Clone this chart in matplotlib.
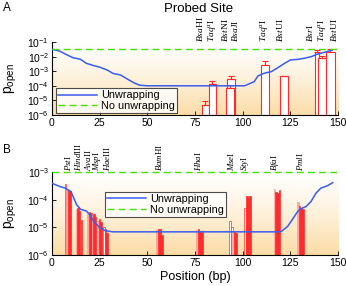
import numpy as np
import matplotlib
matplotlib.use('Agg')
import matplotlib.pyplot as plt
from matplotlib.ticker import LogLocator, NullLocator, LogFormatterMathtext

plt.rcParams['font.family'] = ['Liberation Sans', 'DejaVu Sans']
plt.rcParams['mathtext.fontset'] = 'custom'
plt.rcParams['mathtext.rm'] = 'Liberation Serif'
plt.rcParams['mathtext.it'] = 'Liberation Serif:italic'
plt.rcParams['mathtext.sf'] = 'Liberation Sans'
plt.rcParams['hatch.color'] = 'white'
plt.rcParams['hatch.linewidth'] = 0.6

# ---- panel A data ----
a_curve_x = [0, 4, 8, 11, 15, 18, 22, 25, 29, 32, 36, 39, 43, 46, 50, 60, 80, 101,
             106, 108, 111, 115, 118, 122, 125, 129, 132, 136, 139, 143, 147]
a_curve_y = [3.2e-2, 2.4e-2, 1.3e-2, 8.5e-3, 6.5e-3, 3.5e-3, 2.4e-3, 1.9e-3, 1.2e-3, 7.1e-4,
             5.5e-4, 3.2e-4, 1.6e-4, 1.1e-4, 1.0e-4, 1.0e-4, 1.0e-4, 1.0e-4,
             1.9e-4, 4.7e-4, 7.1e-4, 9.3e-4, 1.6e-3, 3.5e-3, 5.9e-3, 6.5e-3, 7.6e-3,
             1.0e-2, 1.45e-2, 2.0e-2, 2.8e-2]
a_nounwrap = 3.2e-2
a_bar_x = [80.5, 84.0, 93.8, 93.3, 111.8, 121.6, 139.0, 141.6, 146.0]
a_bar_w = [4.0, 3.8, 4.4, 4.2, 4.4, 4.3, 2.0, 4.3, 4.4]
a_bar_y = [4.8e-6, 1.25e-4, 2.8e-4, 6.8e-5, 2.5e-3, 4.5e-4, 2.2e-2, 7.6e-3, 2.0e-2]
a_bar_err = [9.1e-6, 2.1e-4, 4.9e-4, 1.1e-4, 5.2e-3, 5.0e-4, 2.75e-2, 1.15e-2, 3.3e-2]
a_label_x = [77.7, 83.8, 90.9, 95.8, 111.0, 119.8, 135.3, 141.7, 148.0]
a_label_it = ['Bsa', 'Taq', 'Bst', 'Bsa', 'Taq', 'Bst', 'Bsr', 'Taq', 'Bst']
a_label_rm = ['HI', r'^{\alpha}I', 'NI', 'JI', r'^{\alpha}I', 'UI', 'I', r'^{\alpha}I', 'UI']

# ---- panel B data ----
b_curve_x = [0, 4, 7, 10, 13, 15, 18, 20, 22, 25, 28, 32, 60, 90, 120,
             123.5, 126, 128.8, 130.5, 133.2, 135.8, 138.4, 141, 144.6, 147.2]
b_curve_y = [3.9e-4, 3.0e-4, 2.6e-4, 1.95e-4, 6.5e-5, 4.5e-5, 3.9e-5, 2.8e-5, 1.6e-5, 1.0e-5,
             7.6e-6, 6.9e-6, 6.9e-6, 6.9e-6, 6.9e-6,
             1.07e-5, 1.9e-5, 3.7e-5, 4.7e-5, 5.6e-5, 8.5e-5, 1.7e-4, 2.6e-4, 3.2e-4, 4.1e-4]
b_nounwrap = 1e-3
b_bar_x = [7.2, 8.0, 8.8, 9.6,
           12.8, 13.6, 14.4, 15.4,
           18.8, 19.6, 20.4,
           21.2, 22.0, 22.8,
           24.2, 25.0, 25.8, 27.2, 28.0, 28.8,
           55.2, 56.0, 56.8, 57.8,
           76.0, 76.8, 77.6, 78.6,
           93.4, 94.3, 95.0, 95.8, 96.6,
           101.3, 102.2, 103.0, 103.8,
           116.8, 117.6, 118.4, 119.2,
           129.0, 129.8, 130.6, 131.6]
b_bar_y = [3.8e-4, 2.5e-4, 2.2e-4, 2.0e-4,
           4.5e-5, 5.0e-5, 4.0e-5, 1.9e-5,
           3.0e-5, 3.5e-5, 3.2e-5,
           2.8e-5, 3.0e-5, 2.3e-5,
           1.7e-5, 2.0e-5, 1.5e-5, 1.0e-5, 9.0e-6, 6.5e-6,
           8.0e-6, 9.0e-6, 8.5e-6, 5.5e-6,
           8.0e-6, 8.5e-6, 7.5e-6, 7.0e-6,
           1.7e-5, 1.0e-5, 7.0e-6, 7.5e-6, 6.5e-6,
           5.0e-5, 1.3e-4, 1.1e-4, 1.3e-4,
           2.5e-4, 1.9e-4, 1.8e-4, 2.2e-4,
           8.5e-5, 6.0e-5, 5.0e-5, 4.5e-5]
b_bar_kind = ['open', 'light', 'solid', 'hatch',
              'light', 'solid', 'hatch', 'solid',
              'light', 'solid', 'hatch',
              'light', 'solid', 'hatch',
              'light', 'solid', 'hatch', 'open', 'solid', 'hatch',
              'light', 'solid', 'hatch', 'solid',
              'light', 'solid', 'hatch', 'solid',
              'open', 'open', 'light', 'hatch', 'solid',
              'open', 'solid', 'hatch', 'solid',
              'light', 'solid', 'hatch', 'solid',
              'light', 'solid', 'hatch', 'solid']
b_label_x = [8.6, 13.9, 18.7, 23.7, 28.9, 56.3, 76.8, 93.8, 101.4, 116.8, 130.0]
b_label_it = ['Pst', 'Hind', 'Ava', 'Msp', 'Hae', 'Bam', 'Hha', 'Mse', 'Sty', 'Bfa', 'Pml']
b_label_rm = ['I', 'III', 'II', 'I', 'III', 'HI', 'I', 'I', 'I', 'I', 'I']

RED = '#ff2a2a'
BLUE = '#3a5cf0'
GREEN = '#44e000'


def gradient(ax):
    top = np.array([1.0, 1.0, 1.0])
    bot = np.array([252, 220, 166]) / 255.0
    t = np.linspace(0, 1, 256) ** 1.3
    img = top[None, :] * (1 - t[:, None]) + bot[None, :] * t[:, None]
    ax.imshow(img[:, None, :], extent=[0, 1, 0, 1], transform=ax.transAxes,
              aspect='auto', zorder=0, interpolation='bilinear')


def style_axes(ax, ymin, ymax):
    ax.set_yscale('log')
    ax.set_xlim(0, 150)
    ax.set_ylim(ymin, ymax)
    ax.spines['top'].set_visible(False)
    ax.spines['right'].set_visible(False)
    ax.spines['left'].set_linewidth(0.8)
    ax.spines['bottom'].set_linewidth(0.8)
    ax.set_xticks([0, 25, 50, 75, 100, 125, 150])
    ax.yaxis.set_major_locator(LogLocator(base=10, numticks=10))
    ax.yaxis.set_minor_locator(NullLocator())
    ax.yaxis.set_major_formatter(LogFormatterMathtext())
    ax.tick_params(direction='in', length=3, width=0.6, labelsize=7.5, pad=2)
    ax.set_ylabel(r'p$_{\mathsf{open}}$', fontsize=10, labelpad=1)
    ax.yaxis.set_label_coords(-0.12, 0.5)


def site_labels(ax, xs, its, rms, size):
    for x, it, rm in zip(xs, its, rms):
        txt = r'$\mathit{' + it + r'}\mathrm{' + rm + '}$'
        ax.text(x, 1.005, txt, transform=ax.get_xaxis_transform(), rotation=90,
                ha='center', va='bottom', fontsize=size)


fig = plt.figure(figsize=(3.46, 2.86), dpi=100)
axA = fig.add_axes([0.150, 0.598, 0.827, 0.255])
axB = fig.add_axes([0.150, 0.108, 0.827, 0.291])

# panel A
gradient(axA)
for x, w, y, e in zip(a_bar_x, a_bar_w, a_bar_y, a_bar_err):
    axA.bar(x, y - 1e-6, bottom=1e-6, width=w, facecolor='white', edgecolor=RED,
            linewidth=0.8, zorder=2)
    axA.errorbar(x, y, yerr=[[0], [e - y]], fmt='none', ecolor=RED, elinewidth=0.8,
                 capsize=2.2, capthick=0.8, zorder=2)
axA.plot(a_curve_x, a_curve_y, color=BLUE, lw=1.1, zorder=3, label='Unwrapping')
axA.axhline(a_nounwrap, color=GREEN, lw=1.0, ls=(0, (5, 3)), zorder=3, label='No unwrapping')
style_axes(axA, 1e-6, 1e-1)
leg = axA.legend(loc='lower left', bbox_to_anchor=(0.014, 0.027), borderaxespad=0,
                 fontsize=7.8, handlelength=3.6, handletextpad=0.4, frameon=True,
                 fancybox=False, borderpad=0.2, labelspacing=0.05)
leg.get_frame().set_edgecolor('#222222')
leg.get_frame().set_linewidth(0.8)
site_labels(axA, a_label_x, a_label_it, a_label_rm, 6.8)

# panel B
gradient(axB)
for x, y, k in zip(b_bar_x, b_bar_y, b_bar_kind):
    if k == 'open':
        fc, ec, h = 'white', RED, None
    elif k == 'light':
        fc, ec, h = '#f9a3a3', '#f9a3a3', None
    elif k == 'hatch':
        fc, ec, h = RED, RED, '....'
    else:
        fc, ec, h = RED, RED, None
    axB.bar(x, y - 1e-6, bottom=1e-6, width=0.8, facecolor=fc, edgecolor=ec,
            linewidth=0.5, hatch=h, zorder=2)
axB.plot(b_curve_x, b_curve_y, color=BLUE, lw=1.1, zorder=3, label='Unwrapping')
axB.axhline(b_nounwrap, color=GREEN, lw=1.0, ls=(0, (5, 3)), zorder=3, label='No unwrapping',
            clip_on=False)
style_axes(axB, 1e-6, 1e-3)
leg = axB.legend(loc='upper left', bbox_to_anchor=(0.185, 0.76), borderaxespad=0,
                 fontsize=7.8, handlelength=3.6, handletextpad=0.4, frameon=True,
                 fancybox=False, borderpad=0.2, labelspacing=0.05)
leg.get_frame().set_edgecolor('#222222')
leg.get_frame().set_linewidth(0.8)
site_labels(axB, b_label_x, b_label_it, b_label_rm, 6.4)
axB.set_xlabel('Position (bp)', fontsize=9, labelpad=2)

fig.text(0.575, 0.970, 'Probed Site', ha='center', va='center', fontsize=9.5)
fig.text(0.01, 0.972, 'A', ha='left', va='center', fontsize=8.5)
fig.text(0.01, 0.477, 'B', ha='left', va='center', fontsize=8.5)

fig.savefig('out.png', dpi=100)
